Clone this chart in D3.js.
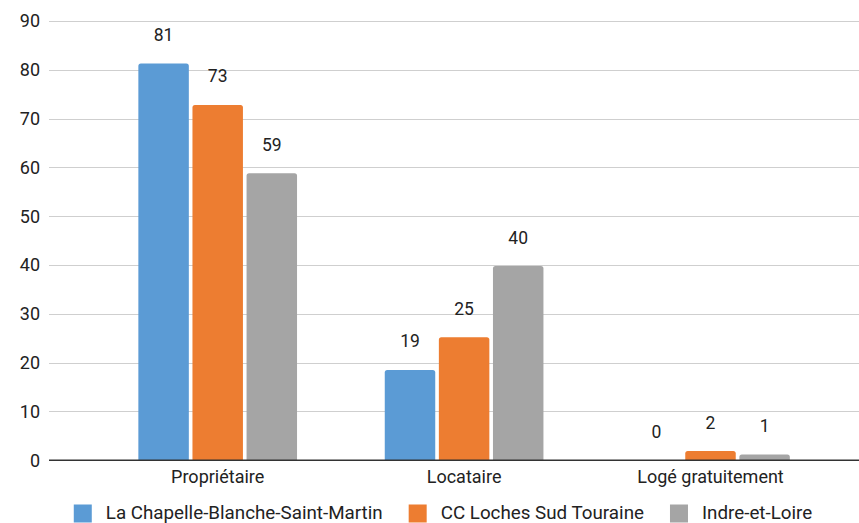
<!DOCTYPE html>
<html>
<head>
<meta charset="utf-8">
<script src="https://cdn.jsdelivr.net/npm/d3@7"></script>
<style>
  html, body { margin: 0; padding: 0; background: #fff; }
  svg { display: block; font-family: Roboto, "Noto Sans", Arial, sans-serif; }
</style>
</head>
<body>
<svg id="chart" width="859" height="523"></svg>
<script>
// Statut d'occupation des résidences principales (%)
const categories = ["Propriétaire", "Locataire", "Logé gratuitement"];
const seriesNames = ["La Chapelle-Blanche-Saint-Martin", "CC Loches Sud Touraine", "Indre-et-Loire"];
const chapelleValues = [81.3, 18.5, 0];
const lochesValues = [72.8, 25.2, 1.9];
const indreValues = [58.8, 39.8, 1.2];
const seriesColors = ["#5b9bd5", "#ed7d31", "#a5a5a5"];
const yTicks = [0, 10, 20, 30, 40, 50, 60, 70, 80, 90];

const seriesValues = [chapelleValues, lochesValues, indreValues];
const rows = categories.map((c, i) => ({
  category: c,
  values: seriesNames.map((s, j) => ({ series: s, idx: j, value: seriesValues[j][i] }))
}));

const svg = d3.select("#chart");
const W = 859;
const textColor = "#222";

const y = d3.scaleLinear().domain([0, 90]).range([460.3, 21]);

const x0 = d3.scaleBand()
  .domain(categories)
  .range([94.5, 833.7])
  .paddingInner(0.356)
  .paddingOuter(0.178);

const x1 = d3.scaleBand()
  .domain(seriesNames)
  .range([0, x0.bandwidth()])
  .paddingInner(0.067);

// horizontal gridlines
svg.append("g")
  .selectAll("line")
  .data(yTicks.filter(t => t > 0))
  .join("line")
  .attr("x1", 49).attr("x2", W)
  .attr("y1", d => Math.round(y(d)) + 0.5)
  .attr("y2", d => Math.round(y(d)) + 0.5)
  .attr("stroke", "#cfcfcf")
  .attr("stroke-width", 1);

// y axis labels
const yAxis = d3.axisLeft(y).tickValues(yTicks).tickSize(0).tickPadding(0);
const yg = svg.append("g").attr("transform", "translate(40,0)").call(yAxis);
yg.select(".domain").remove();
yg.selectAll("text")
  .attr("font-size", 18)
  .attr("fill", textColor)
  .attr("font-family", "Roboto, sans-serif");

// bars with slightly rounded tops
function topRounded(xp, yp, w, h, r) {
  if (h <= 0) return "";
  r = Math.min(r, h, w / 2);
  return `M${xp},${yp + h}V${yp + r}Q${xp},${yp} ${xp + r},${yp}H${xp + w - r}Q${xp + w},${yp} ${xp + w},${yp + r}V${yp + h}Z`;
}

const groups = svg.append("g")
  .selectAll("g")
  .data(rows)
  .join("g")
  .attr("transform", d => `translate(${x0(d.category)},0)`);

groups.selectAll("path")
  .data(d => d.values)
  .join("path")
  .attr("d", d => topRounded(x1(d.series), y(d.value), x1.bandwidth(), y(0) - y(d.value), 2.5))
  .attr("fill", d => seriesColors[d.idx]);

// value labels
groups.selectAll("text")
  .data(d => d.values)
  .join("text")
  .attr("x", d => x1(d.series) + x1.bandwidth() / 2)
  .attr("y", d => y(d.value) - 22.5)
  .attr("text-anchor", "middle")
  .attr("font-size", 17.5)
  .attr("fill", textColor)
  .text(d => d3.format(".0f")(d.value));

// baseline
svg.append("line")
  .attr("x1", 49).attr("x2", W)
  .attr("y1", y(0)).attr("y2", y(0))
  .attr("stroke", "#333")
  .attr("stroke-width", 1.5);

// category labels
const xAxis = d3.axisBottom(x0).tickSize(0).tickPadding(0);
const xg = svg.append("g").attr("transform", `translate(0,${y(0)})`).call(xAxis);
xg.select(".domain").remove();
xg.selectAll("text")
  .attr("dy", null)
  .attr("y", 22.5)
  .attr("font-size", 18)
  .attr("fill", textColor)
  .attr("font-family", "Roboto, sans-serif");

// legend along the bottom edge
const legend = svg.append("g");
const items = legend.selectAll("g")
  .data(seriesNames)
  .join("g");
items.append("rect")
  .attr("width", 18).attr("height", 18)
  .attr("y", 504.5)
  .attr("fill", (d, i) => seriesColors[i]);
items.append("text")
  .attr("x", 32)
  .attr("y", 518.5)
  .attr("font-size", 18.8)
  .attr("fill", textColor)
  .text(d => d);

let cursor = 0;
items.each(function () {
  const g = d3.select(this);
  g.attr("transform", `translate(${cursor},0)`);
  const tw = g.select("text").node().getComputedTextLength();
  cursor += 32 + tw + 26;
});
const total = cursor - 26;
legend.attr("transform", `translate(${443 - total / 2},0)`);
</script>
</body>
</html>
